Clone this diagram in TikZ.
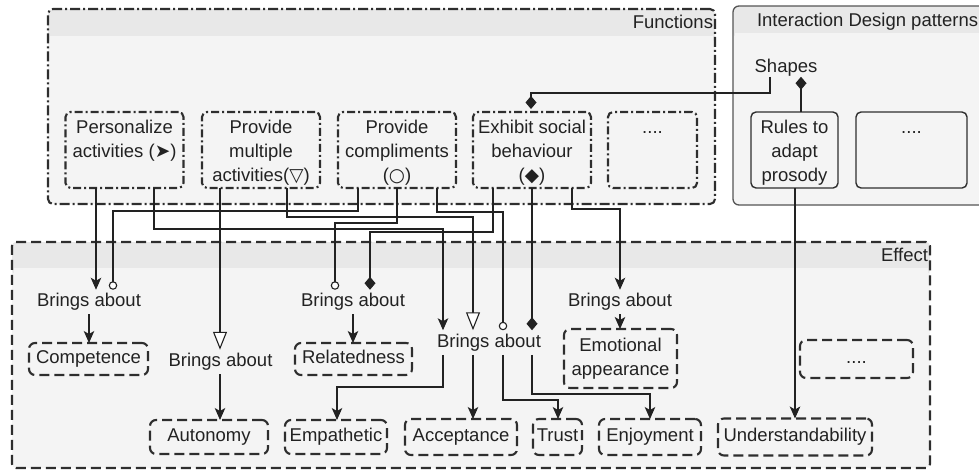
\documentclass[tikz,border=0pt]{standalone}
\usepackage{fontspec}
\setmainfont{Liberation Sans}
\newfontfamily\symfont{DejaVu Sans}
\usetikzlibrary{arrows.meta}

\definecolor{ink}{HTML}{222222}
\definecolor{frame}{HTML}{2E2E2E}
\definecolor{softframe}{HTML}{555555}
\definecolor{bodyfill}{HTML}{F4F4F4}
\definecolor{headfill}{HTML}{E8E8E8}

% top-aligned multi-line text inside a fixed-height box
\newcommand\toptext[2]{\parbox[c][68pt][t]{#1}{\centering\rule{0pt}{17pt}#2}}

\begin{document}
\begin{tikzpicture}[x=1pt, y=-1pt,
  every node/.style={font=\fontsize{18.5}{24}\selectfont, text=ink, inner sep=0pt, outer sep=0pt},
  lbl/.style={text height=13.5pt, text depth=4pt},
  brings/.style={lbl, outer sep=3.5pt},
  fnframe/.style={draw=frame, line width=2.1pt, rounded corners=5pt,
    dash pattern=on 10pt off 3pt on 2pt off 3pt},
  fnbox/.style={draw=frame, line width=2.1pt, rounded corners=5pt,
    dash pattern=on 8pt off 3pt on 2pt off 3pt, inner sep=4pt},
  effframe/.style={draw=frame, line width=2.1pt, rounded corners=4pt,
    dash pattern=on 10pt off 5pt},
  effbox/.style={draw=frame, line width=2.1pt, rounded corners=6pt,
    dash pattern=on 10pt off 5pt, align=center},
  idpframe/.style={draw=softframe, line width=1.3pt, rounded corners=6pt},
  idpbox/.style={draw=frame, line width=1.4pt, rounded corners=5pt, inner sep=4pt},
  conn/.style={draw=ink, line width=1.1pt, line join=miter},
  arrowline/.style={conn, -{Stealth[length=12pt, width=10.5pt, inset=3pt]}},
  triline/.style={conn, -{Triangle[length=18pt, width=14pt, fill=white]}},
  circline/.style={conn, -{Circle[length=8.5pt, fill=white]}},
  diamline/.style={conn, -{Diamond[length=13pt, width=11pt]}}
]
\useasboundingbox (0,0) rectangle (979,472);
\clip (0,0) rectangle (979,472);

% ---------- Functions container ----------
\fill[bodyfill, rounded corners=5pt] (48,9) rectangle (715,204);
\fill[headfill, rounded corners=5pt] (48,9) rectangle (715,42);
\fill[bodyfill] (50,36) rectangle (713,44);
\node[fnframe, minimum width=667pt, minimum height=195pt] (functions) at (381.5,106.5) {};
\node[lbl, anchor=east] (fnlabel) at (713,24) {Functions};

% ---------- Interaction design patterns container ----------
\fill[bodyfill, rounded corners=6pt] (733,6) rectangle (1000,205);
\fill[headfill, rounded corners=6pt] (733,6) rectangle (1000,38);
\fill[bodyfill] (735,33) rectangle (998,40);
\node[idpframe, minimum width=267pt, minimum height=199pt] (patterns) at (866.5,105.5) {};
\node[lbl, anchor=west] (idplabel) at (757,22) {Interaction Design patterns};

% ---------- Effect container ----------
\fill[bodyfill, rounded corners=4pt] (12,242) rectangle (930,468);
\fill[headfill, rounded corners=4pt] (12,242) rectangle (930,274);
\fill[bodyfill] (14,268) rectangle (928,276);
\node[effframe, minimum width=918pt, minimum height=226pt] (effect) at (471,355) {};
\node[lbl, anchor=east] (efflabel) at (928,257) {Effect};

% ---------- Functions ----------
\node[fnbox] (pers)  at (124.5,150) {\toptext{110pt}{Personalize\\activities ({\symfont ➤})}};
\node[fnbox] (mult)  at (261,150)   {\toptext{110pt}{Provide\\multiple\\activities({\symfont ▽})}};
\node[fnbox] (compl) at (397,150)   {\toptext{110pt}{Provide\\compliments\\({\symfont ○})}};
\node[fnbox] (exh)   at (532,150)   {\toptext{110pt}{Exhibit social\\behaviour\\({\symfont ◆})}};
\node[fnbox] (fnmore) at (652.5,150) {\toptext{81pt}{....}};

% ---------- Interaction design patterns ----------
\node[lbl] (shapes) at (786,68) {Shapes};
\node[idpbox] (rules)  at (794.5,150) {\toptext{79pt}{Rules to\\adapt\\prosody}};
\node[idpbox] (idpmore) at (911.5,150) {\toptext{103pt}{....}};

% ---------- Effects ----------
\node[brings] (ba1) at (89,302)    {Brings about};
\node[brings] (ba2) at (220.5,362) {Brings about};
\node[brings] (ba3) at (353,302)   {Brings about};
\node[brings] (ba4) at (489,342.5) {Brings about};
\node[brings] (ba5) at (620,302)   {Brings about};

\node[effbox, lbl, minimum width=119pt, minimum height=32pt] (comp)  at (88.5,359)  {Competence};
\node[effbox, lbl, minimum width=117pt, minimum height=32pt] (rel)   at (353.5,359) {Relatedness};
\node[effbox, minimum width=113pt, minimum height=59pt]      (emo)   at (620.5,358.5) {Emotional\\appearance};
\node[effbox, lbl, minimum width=113pt, minimum height=38pt] (effmore) at (856.5,359) {....};
\node[effbox, lbl, minimum width=118pt, minimum height=34pt] (auto)  at (209,437)   {Autonomy};
\node[effbox, lbl, minimum width=102pt, minimum height=34pt] (emp)   at (336,437)   {Empathetic};
\node[effbox, lbl, minimum width=112pt, minimum height=36pt] (acc)   at (461,437)   {Acceptance};
\node[effbox, lbl, minimum width=49pt,  minimum height=36pt] (trust) at (557.5,437) {Trust};
\node[effbox, lbl, minimum width=102pt, minimum height=36pt] (enj)   at (650,437)   {Enjoyment};
\node[effbox, lbl, minimum width=154pt, minimum height=37pt] (und)   at (795,437)   {Understandability};

% ---------- Functions bring about effects ----------
\draw[arrowline] (pers.south -| 96,0) -- (96,0 |- ba1.north);
\draw[arrowline] (pers.south -| 154,0) |- (443,229) -- (443,0 |- ba4.north);
\draw[triline] (mult.south -| 220,0) -- (220,0 |- ba2.north);
\draw[triline] (mult.south -| 287,0) |- (473,217) -- (473,0 |- ba4.north);
\draw[circline] (compl.south -| 358,0) |- (113,211) -- (113,0 |- ba1.north);
\draw[circline] (compl.south -| 397,0) |- (335,223) -- (335,0 |- ba3.north);
\draw[circline] (compl.south -| 437,0) |- (503,212) -- (503,0 |- ba4.north);
\draw[diamline] (exh.south -| 493,0) |- (370,232) -- (370,0 |- ba3.north);
\draw[diamline] (exh.south -| 532,0) -- (532,0 |- ba4.north);
\draw[arrowline] (exh.south -| 572,0) |- (620,209) -- (620,0 |- ba5.north);

% ---------- Patterns ----------
\draw[diamline, shorten >=3pt] (shapes.south -| 770,0) |- (531,93) -- (531,0 |- exh.north);
\draw[diamline] (rules.north -| 801,0) -- (801,0 |- shapes.south);
\draw[arrowline] (rules.south -| 795,0) -- (795,0 |- und.north);

% ---------- Effects reached ----------
\draw[arrowline] (ba1.south -| 89,0) -- (89,0 |- comp.north);
\draw[arrowline] (ba2.south -| 220,0) -- (220,0 |- auto.north);
\draw[arrowline] (ba3.south -| 353,0) -- (353,0 |- rel.north);
\draw[arrowline] (ba4.south -| 443,0) |- (337,387) -- (337,0 |- emp.north);
\draw[arrowline] (ba4.south -| 473,0) -- (473,0 |- acc.north);
\draw[arrowline] (ba4.south -| 503,0) |- (558,400) -- (558,0 |- trust.north);
\draw[arrowline] (ba4.south -| 532,0) |- (650,394) -- (650,0 |- enj.north);
\draw[arrowline] (ba5.south -| 620,0) -- (620,0 |- emo.north);
\end{tikzpicture}
\end{document}
